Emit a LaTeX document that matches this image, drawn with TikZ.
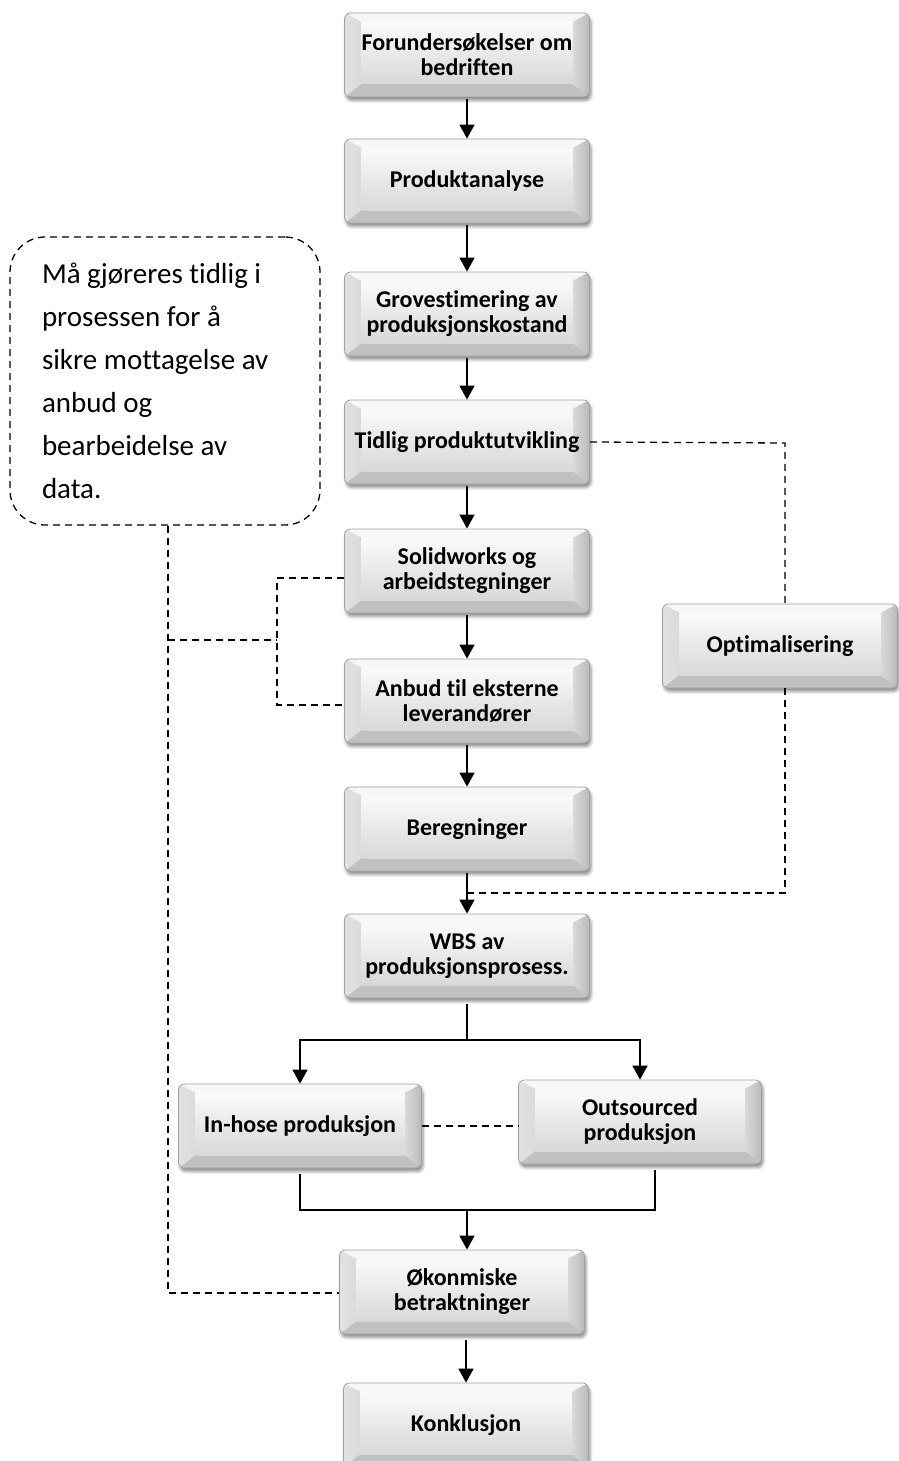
\documentclass[tikz,border=0pt]{standalone}
\usepackage{fontspec}
\setmainfont{Carlito}[Ligatures=NoCommon]
\usetikzlibrary{arrows.meta,calc,shadows.blur}

\definecolor{bevtop}{HTML}{F7F7F7}
\definecolor{bevbot}{HTML}{C0C0C0}
\definecolor{bevside}{HTML}{DADADA}
\definecolor{facetop}{HTML}{FAFAFA}
\definecolor{facebot}{HTML}{D8D8D8}
\definecolor{rim}{HTML}{A0A0A0}

\tikzset{
  bevelbox/.style={
    rounded corners=6pt, draw=rim, line width=0.8pt, fill=bevside,
    blur shadow={shadow xshift=1.5pt, shadow yshift=-3.5pt,
                 shadow blur radius=3pt, shadow opacity=45},
    minimum width=245pt, minimum height=84pt, inner sep=0pt,
    font=\bfseries\fontsize{24}{25}\selectfont, align=center,
    path picture={
      \coordinate (@nw) at (path picture bounding box.north west);
      \coordinate (@ne) at (path picture bounding box.north east);
      \coordinate (@sw) at (path picture bounding box.south west);
      \coordinate (@se) at (path picture bounding box.south east);
      \coordinate (@inw) at ($(@nw)+(17pt,-9pt)$);
      \coordinate (@ine) at ($(@ne)+(-17pt,-9pt)$);
      \coordinate (@isw) at ($(@sw)+(17pt,13pt)$);
      \coordinate (@ise) at ($(@se)+(-17pt,13pt)$);
      \fill[sharp corners, bevtop] (@nw) -- (@ne) -- (@ine) -- (@inw) -- cycle;
      \fill[sharp corners, bevbot] (@sw) -- (@se) -- (@ise) -- (@isw) -- cycle;
      \shade[sharp corners, left color=bevside!80!white, right color=bevside]
        (@nw) -- (@inw) -- (@isw) -- (@sw) -- cycle;
      \shade[sharp corners, left color=bevside, right color=bevside!85!black]
        (@ne) -- (@ine) -- (@ise) -- (@se) -- cycle;
      \shade[sharp corners, top color=facetop, bottom color=facebot]
        (@inw) rectangle (@ise);
    }
  },
  flow/.style={line width=1.5pt, draw=black},
  arr/.style={flow, -{Triangle[width=15pt,length=14pt]}},
  dashline/.style={line width=1.3pt, dash pattern=on 7pt off 5pt},
  notebox/.style={draw, dashline, rounded corners=35pt,
    minimum width=310pt, minimum height=288pt, inner xsep=32pt,
    text width=246pt, align=left, font=\fontsize{29}{43}\selectfont}
}

\begin{document}
\begin{tikzpicture}[x=1pt,y=-1pt]
  \useasboundingbox (0,0) rectangle (899,1461);

  % main column
  \node[bevelbox] (b1) at (467,55)  {Forundersøkelser om\\bedriften};
  \node[bevelbox] (b2) at (467,181) {Produktanalyse};
  \node[bevelbox] (b3) at (467,314) {Grovestimering av\\produksjonskostand};
  \node[bevelbox] (b4) at (467,442) {Tidlig produktutvikling};
  \node[bevelbox] (b5) at (467,571) {Solidworks og\\arbeidstegninger};
  \node[bevelbox] (b6) at (467,701) {Anbud til eksterne\\leverandører};
  \node[bevelbox] (b7) at (467,829) {Beregninger};
  \node[bevelbox] (b8) at (467,956) {WBS av\\produksjonsprosess.};

  % parallel branches
  \node[bevelbox, minimum width=243pt] (inh)  at (300,1126) {In-hose produksjon};
  \node[bevelbox, minimum width=243pt] (outs) at (640,1122) {Outsourced\\produksjon};

  \node[bevelbox] (ok)  at (462,1292) {Økonmiske\\betraktninger};
  \node[bevelbox] (kon) at (466,1425) {Konklusjon};

  % side box
  \node[bevelbox, minimum width=235pt] (opt) at (780,646) {Optimalisering};

  % note
  \node[notebox] (note) at (165,381)
    {\spaceskip=0pt \xspaceskip=0pt
     Må gjøreres tidlig i\\prosessen for å\\sikre mottagelse av\\anbud og\\bearbeidelse av\\data.};

  % arrows down the main column
  \draw[arr] ([yshift=-2pt]b1.south) -- (b2.north);
  \draw[arr] ([yshift=-2pt]b2.south) -- (b3.north);
  \draw[arr] ([yshift=-2pt]b3.south) -- (b4.north);
  \draw[arr] ([yshift=-2pt]b4.south) -- (b5.north);
  \draw[arr] ([yshift=-2pt]b5.south) -- (b6.north);
  \draw[arr] ([yshift=-2pt]b6.south) -- (b7.north);
  \draw[arr] ([yshift=-2pt]b7.south) -- (b8.north);

  % split and merge
  \coordinate (split) at (467,1040);
  \draw[flow] ([yshift=-6pt]b8.south) -- (split);
  \draw[arr] (split) -| (inh.north);
  \draw[arr] (split) -| (outs.north);
  \coordinate (mr) at (655,1210);
  \coordinate (mid) at (467,1210);
  \draw[flow] ([yshift=-6pt]inh.south) |- (mr) -- ([yshift=-6pt]outs.south -| mr);
  \draw[arr] (mid) -- (mid |- ok.north);
  \draw[arr] ([yshift=-6pt]ok.south -| kon.north) -- (kon.north);

  % dashed links
  \draw[dashline] (inh.east) -- (inh.east -| outs.west);

  \coordinate (tr) at (785,443);
  \coordinate (br) at (785,893);
  \draw[dashline] (b4.east) -- (tr) -- (tr |- opt.north);
  \draw[dashline] (opt.south -| br) -- (br) -- (br -| b7.south);

  \coordinate (nl) at (168,1293);
  \coordinate (nj) at (168,640);
  \coordinate (vj) at (277,640);
  \coordinate (vt) at (277,578);
  \coordinate (vb) at (277,705);
  \draw[dashline] (note.south -| nl) -- (nl) -- (nl -| ok.west);
  \draw[dashline] (nj) -- (vj);
  \draw[dashline] (vt -| b5.west) -- (vt) -- (vb) -- (vb -| b6.west);
\end{tikzpicture}
\end{document}
